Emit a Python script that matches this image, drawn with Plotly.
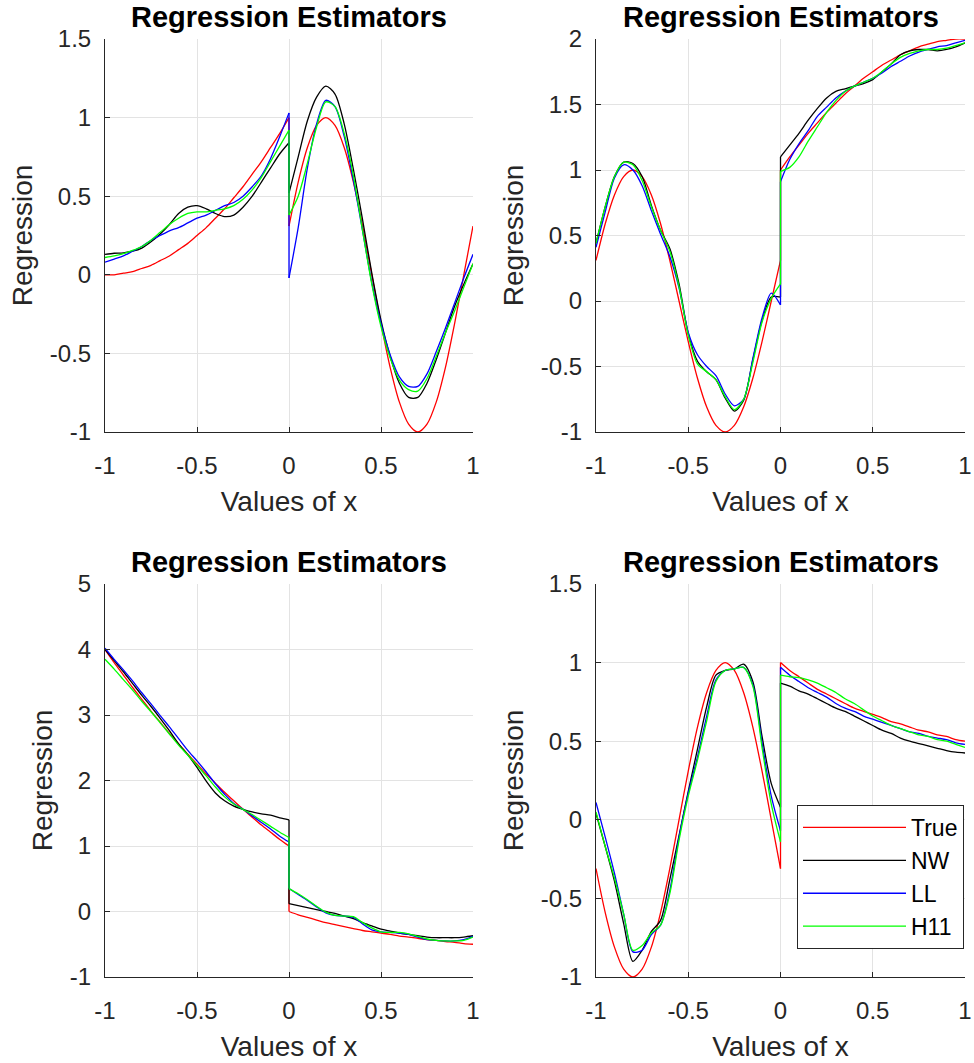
import plotly.graph_objects as go

# Sample positions on each side of the break at x = 0
x_left = [-1.0, -0.95, -0.9, -0.85, -0.8, -0.75, -0.7, -0.65, -0.6, -0.55, -0.5,
          -0.45, -0.4, -0.35, -0.3, -0.25, -0.2, -0.15, -0.1, -0.05, 0.0]
x_right = [0.0, 0.05, 0.1, 0.15, 0.2, 0.25, 0.3, 0.35, 0.4, 0.45, 0.5,
           0.55, 0.6, 0.65, 0.7, 0.75, 0.8, 0.85, 0.9, 0.95, 1.0]

x_ticks = [-1, -0.5, 0, 0.5, 1]
x_tick_labels = ["-1", "-0.5", "0", "0.5", "1"]

series_names = ["True", "NW", "LL", "H11"]
series_colors = ["#ff0000", "#000000", "#0000ff", "#00ff00"]

# ---- panel 1 ----
p1_true_left = [0.0, 0.0, 0.01, 0.02, 0.04, 0.06, 0.09, 0.12, 0.16, 0.2, 0.25,
                0.3, 0.36, 0.42, 0.49, 0.56, 0.64, 0.72, 0.81, 0.9, 1.0]
p1_true_right = [0.31, 0.59, 0.81, 0.95, 1.0, 0.95, 0.81, 0.59, 0.31, 0.0, -0.31,
                 -0.59, -0.81, -0.95, -1.0, -0.95, -0.81, -0.59, -0.31, 0.0, 0.31]
p1_nw_left = [0.13, 0.137, 0.14, 0.15, 0.17, 0.21, 0.26, 0.32, 0.39, 0.43, 0.44,
              0.42, 0.39, 0.37, 0.38, 0.43, 0.5, 0.59, 0.68, 0.77, 0.84]
p1_nw_right = [0.52, 0.75, 0.98, 1.13, 1.2, 1.15, 0.96, 0.67, 0.35, 0.01, -0.29,
               -0.52, -0.69, -0.78, -0.78, -0.69, -0.54, -0.37, -0.2, -0.06, 0.07]
p1_ll_left = [0.08, 0.1, 0.12, 0.15, 0.18, 0.22, 0.25, 0.28, 0.3, 0.33, 0.36,
              0.38, 0.41, 0.44, 0.46, 0.5, 0.56, 0.63, 0.74, 0.88, 1.03]
p1_ll_right = [-0.02, 0.3, 0.68, 0.96, 1.11, 1.07, 0.88, 0.6, 0.28, -0.05, -0.31,
               -0.51, -0.65, -0.71, -0.71, -0.63, -0.49, -0.34, -0.18, -0.02, 0.13]
p1_h11_left = [0.11, 0.12, 0.135, 0.155, 0.18, 0.22, 0.27, 0.32, 0.36, 0.39, 0.4,
               0.4, 0.41, 0.42, 0.44, 0.48, 0.54, 0.62, 0.72, 0.82, 0.92]
p1_h11_right = [0.38, 0.5, 0.71, 0.94, 1.1, 1.07, 0.9, 0.63, 0.28, -0.06, -0.33,
                -0.53, -0.67, -0.73, -0.74, -0.66, -0.52, -0.37, -0.23, -0.08, 0.07]

# ---- panel 2 ----
p2_true_left = [0.31, 0.59, 0.81, 0.95, 1.0, 0.95, 0.81, 0.59, 0.31, 0.0, -0.31,
                -0.59, -0.81, -0.95, -1.0, -0.95, -0.81, -0.59, -0.31, 0.0, 0.31]
p2_true_right = [1.0, 1.1, 1.19, 1.28, 1.36, 1.44, 1.51, 1.58, 1.64, 1.7, 1.75,
                 1.8, 1.84, 1.88, 1.91, 1.94, 1.96, 1.98, 1.99, 2.0, 2.0]
p2_nw_left = [0.44, 0.72, 0.95, 1.06, 1.05, 0.95, 0.73, 0.54, 0.4, 0.13, -0.25,
              -0.46, -0.54, -0.6, -0.74, -0.84, -0.76, -0.45, -0.15, 0.03, 0.03]
p2_nw_right = [1.1, 1.19, 1.28, 1.38, 1.47, 1.55, 1.6, 1.62, 1.64, 1.66, 1.69,
               1.75, 1.81, 1.88, 1.91, 1.92, 1.92, 1.91, 1.92, 1.94, 1.97]
p2_ll_left = [0.41, 0.68, 0.94, 1.04, 1.0, 0.88, 0.69, 0.51, 0.34, 0.1, -0.24,
              -0.41, -0.5, -0.57, -0.71, -0.8, -0.75, -0.44, -0.13, 0.06, -0.03]
p2_ll_right = [0.91, 1.08, 1.2, 1.3, 1.41, 1.48, 1.55, 1.6, 1.64, 1.67, 1.7,
               1.74, 1.79, 1.83, 1.87, 1.9, 1.92, 1.94, 1.95, 1.97, 1.99]
p2_h11_left = [0.44, 0.72, 0.95, 1.06, 1.04, 0.92, 0.72, 0.54, 0.38, 0.11, -0.26,
               -0.48, -0.54, -0.6, -0.73, -0.83, -0.75, -0.47, -0.16, 0.02, 0.13]
p2_h11_right = [0.99, 1.02, 1.1, 1.22, 1.33, 1.44, 1.53, 1.6, 1.64, 1.67, 1.7,
                1.75, 1.81, 1.86, 1.89, 1.91, 1.92, 1.92, 1.93, 1.95, 1.97]

# ---- panel 3 ----
p3_true_left = [4.0, 3.8, 3.61, 3.42, 3.24, 3.06, 2.89, 2.72, 2.56, 2.4, 2.25,
                2.1, 1.96, 1.82, 1.69, 1.56, 1.44, 1.32, 1.21, 1.1, 1.0]
p3_true_right = [0.0, -0.05, -0.09, -0.13, -0.17, -0.2, -0.23, -0.26, -0.29, -0.31, -0.33,
                 -0.35, -0.375, -0.39, -0.41, -0.43, -0.44, -0.46, -0.47, -0.49, -0.5]
p3_nw_left = [4.0, 3.83, 3.66, 3.48, 3.3, 3.13, 2.95, 2.76, 2.56, 2.39, 2.2,
              1.99, 1.81, 1.69, 1.61, 1.56, 1.52, 1.49, 1.47, 1.43, 1.4]
p3_nw_right = [0.12, 0.09, 0.06, 0.03, 0.0, -0.03, -0.07, -0.11, -0.17, -0.22, -0.27,
               -0.3, -0.33, -0.35, -0.37, -0.39, -0.4, -0.4, -0.4, -0.39, -0.37]
p3_ll_left = [4.02, 3.85, 3.69, 3.52, 3.34, 3.17, 2.99, 2.82, 2.64, 2.46, 2.3,
              2.13, 1.95, 1.79, 1.65, 1.56, 1.46, 1.36, 1.26, 1.15, 1.06]
p3_ll_right = [0.35, 0.26, 0.17, 0.07, -0.02, -0.06, -0.07, -0.09, -0.19, -0.28, -0.31,
               -0.32, -0.33, -0.35, -0.39, -0.43, -0.44, -0.45, -0.45, -0.43, -0.38]
p3_h11_left = [3.85, 3.7, 3.54, 3.38, 3.21, 3.05, 2.88, 2.71, 2.54, 2.39, 2.23,
               2.07, 1.9, 1.75, 1.64, 1.56, 1.48, 1.39, 1.3, 1.21, 1.13]
p3_h11_right = [0.35, 0.27, 0.18, 0.08, -0.01, -0.06, -0.07, -0.08, -0.17, -0.25, -0.31,
                -0.32, -0.32, -0.34, -0.38, -0.42, -0.44, -0.45, -0.45, -0.44, -0.39]

# ---- panel 4 ----
p4_true_left = [-0.31, -0.59, -0.81, -0.95, -1.0, -0.95, -0.81, -0.59, -0.31, 0.0, 0.31,
                0.59, 0.81, 0.95, 1.0, 0.95, 0.81, 0.59, 0.31, 0.0, -0.31]
p4_true_right = [1.0, 0.95, 0.91, 0.87, 0.83, 0.8, 0.77, 0.74, 0.71, 0.69, 0.67,
                 0.65, 0.625, 0.61, 0.59, 0.57, 0.56, 0.54, 0.53, 0.51, 0.5]
p4_nw_left = [0.04, -0.17, -0.39, -0.66, -0.9, -0.83, -0.71, -0.64, -0.38, -0.1, 0.18,
              0.45, 0.72, 0.92, 0.95, 0.96, 0.99, 0.88, 0.53, 0.23, 0.08]
p4_nw_right = [0.87, 0.85, 0.82, 0.8, 0.77, 0.74, 0.71, 0.69, 0.66, 0.63, 0.6,
               0.57, 0.55, 0.52, 0.5, 0.485, 0.47, 0.455, 0.44, 0.43, 0.425]
p4_ll_left = [0.11, -0.11, -0.34, -0.6, -0.84, -0.83, -0.73, -0.67, -0.45, -0.11, 0.17,
              0.4, 0.66, 0.89, 0.95, 0.96, 0.97, 0.86, 0.49, 0.15, -0.07]
p4_ll_right = [0.97, 0.92, 0.88, 0.84, 0.81, 0.78, 0.74, 0.71, 0.69, 0.66, 0.64,
               0.62, 0.6, 0.58, 0.56, 0.55, 0.53, 0.52, 0.51, 0.49, 0.48]
p4_h11_left = [0.05, -0.17, -0.37, -0.6, -0.83, -0.8, -0.72, -0.67, -0.47, -0.13, 0.15,
               0.38, 0.63, 0.88, 0.95, 0.96, 0.97, 0.85, 0.46, 0.1, -0.14]
p4_h11_right = [0.92, 0.91, 0.905, 0.89, 0.87, 0.84, 0.81, 0.77, 0.74, 0.7, 0.66,
                0.63, 0.6, 0.58, 0.56, 0.54, 0.53, 0.51, 0.5, 0.48, 0.46]

panels = [
    {"left": [p1_true_left, p1_nw_left, p1_ll_left, p1_h11_left],
     "right": [p1_true_right, p1_nw_right, p1_ll_right, p1_h11_right],
     "yrange": [-1, 1.5], "yticks": [-1, -0.5, 0, 0.5, 1, 1.5],
     "ylabels": ["-1", "-0.5", "0", "0.5", "1", "1.5"]},
    {"left": [p2_true_left, p2_nw_left, p2_ll_left, p2_h11_left],
     "right": [p2_true_right, p2_nw_right, p2_ll_right, p2_h11_right],
     "yrange": [-1, 2], "yticks": [-1, -0.5, 0, 0.5, 1, 1.5, 2],
     "ylabels": ["-1", "-0.5", "0", "0.5", "1", "1.5", "2"]},
    {"left": [p3_true_left, p3_nw_left, p3_ll_left, p3_h11_left],
     "right": [p3_true_right, p3_nw_right, p3_ll_right, p3_h11_right],
     "yrange": [-1, 5], "yticks": [-1, 0, 1, 2, 3, 4, 5],
     "ylabels": ["-1", "0", "1", "2", "3", "4", "5"]},
    {"left": [p4_true_left, p4_nw_left, p4_ll_left, p4_h11_left],
     "right": [p4_true_right, p4_nw_right, p4_ll_right, p4_h11_right],
     "yrange": [-1, 1.5], "yticks": [-1, -0.5, 0, 0.5, 1, 1.5],
     "ylabels": ["-1", "-0.5", "0", "0.5", "1", "1.5"]},
]

W, H = 974, 1063
# axes boxes in pixels: (left, right, top, bottom)
boxes = [(105, 473, 39, 432), (596, 965, 39, 432),
         (105, 473, 584, 977), (596, 965, 584, 977)]

FONT = "Liberation Sans, Arial, sans-serif"
AXIS_COLOR = "#262626"
GRID_COLOR = "#e3e3e3"
LINE_W = 1.3

fig = go.Figure()
layout = dict(
    width=W, height=H, margin=dict(l=0, r=0, t=0, b=0, autoexpand=False),
    paper_bgcolor="white", plot_bgcolor="white",
    font=dict(family=FONT, color=AXIS_COLOR),
    showlegend=True,
    legend=dict(x=797 / W, y=1 - 805 / H, xanchor="left", yanchor="top",
                bgcolor="white", bordercolor=AXIS_COLOR, borderwidth=1,
                font=dict(family=FONT, size=23, color="#000000"),
                itemwidth=103, tracegroupgap=0),
)
annotations = []

for i, (pan, box) in enumerate(zip(panels, boxes)):
    n = "" if i == 0 else str(i + 1)
    xa, ya = "x" + n, "y" + n
    l, r, t, b = box
    layout["xaxis" + n] = dict(
        domain=[l / W, r / W], range=[-1, 1], anchor=ya, automargin=False,
        tickvals=x_ticks, ticktext=x_tick_labels,
        ticks="inside", ticklen=5, tickcolor=AXIS_COLOR, ticklabelstandoff=12,
        showline=True, linecolor=AXIS_COLOR, linewidth=1,
        showgrid=True, gridcolor=GRID_COLOR, gridwidth=1, zeroline=False,
        tickfont=dict(size=24, color=AXIS_COLOR),
        title=dict(text="Values of x", font=dict(size=28, color=AXIS_COLOR), standoff=13),
    )
    layout["yaxis" + n] = dict(
        domain=[1 - b / H, 1 - t / H], range=pan["yrange"], anchor=xa, automargin=False,
        tickvals=pan["yticks"], ticktext=pan["ylabels"],
        ticks="inside", ticklen=5, tickcolor=AXIS_COLOR, ticklabelstandoff=8,
        showline=True, linecolor=AXIS_COLOR, linewidth=1,
        showgrid=True, gridcolor=GRID_COLOR, gridwidth=1, zeroline=False,
        tickfont=dict(size=24, color=AXIS_COLOR),
        title=dict(text="Regression", font=dict(size=28, color=AXIS_COLOR), standoff=9),
    )
    annotations.append(dict(
        text="<b>Regression Estimators</b>", xref="paper", yref="paper",
        x=(l + r) / 2 / W, y=1 - t / H, xanchor="center", yanchor="bottom",
        yshift=4, showarrow=False,
        font=dict(family=FONT, size=29, color="#000000"),
    ))

    for k in range(4):
        yl, yr = pan["left"][k], pan["right"][k]
        col = series_colors[k]
        show = (i == 3)
        fig.add_trace(go.Scatter(
            x=x_left, y=yl, mode="lines", xaxis=xa, yaxis=ya,
            line=dict(color=col, width=LINE_W, shape="spline", smoothing=0.8),
            name=series_names[k], legendgroup=series_names[k], showlegend=show,
            hoverinfo="skip"))
        # vertical jump at the break
        fig.add_trace(go.Scatter(
            x=[x_left[-1], x_right[0]], y=[yl[-1], yr[0]], mode="lines",
            xaxis=xa, yaxis=ya, line=dict(color=col, width=LINE_W),
            legendgroup=series_names[k], showlegend=False, hoverinfo="skip"))
        fig.add_trace(go.Scatter(
            x=x_right, y=yr, mode="lines", xaxis=xa, yaxis=ya,
            line=dict(color=col, width=LINE_W, shape="spline", smoothing=0.8),
            legendgroup=series_names[k], showlegend=False, hoverinfo="skip"))

layout["annotations"] = annotations
fig.update_layout(**layout)

# draw traces in series order across panels: red, black, blue, green
order = []
for k in range(4):
    for i in range(4):
        base = (i * 4 + k) * 3
        order.extend([base, base + 1, base + 2])
fig.data = tuple(fig.data[j] for j in order)

fig.write_html("out.html")
